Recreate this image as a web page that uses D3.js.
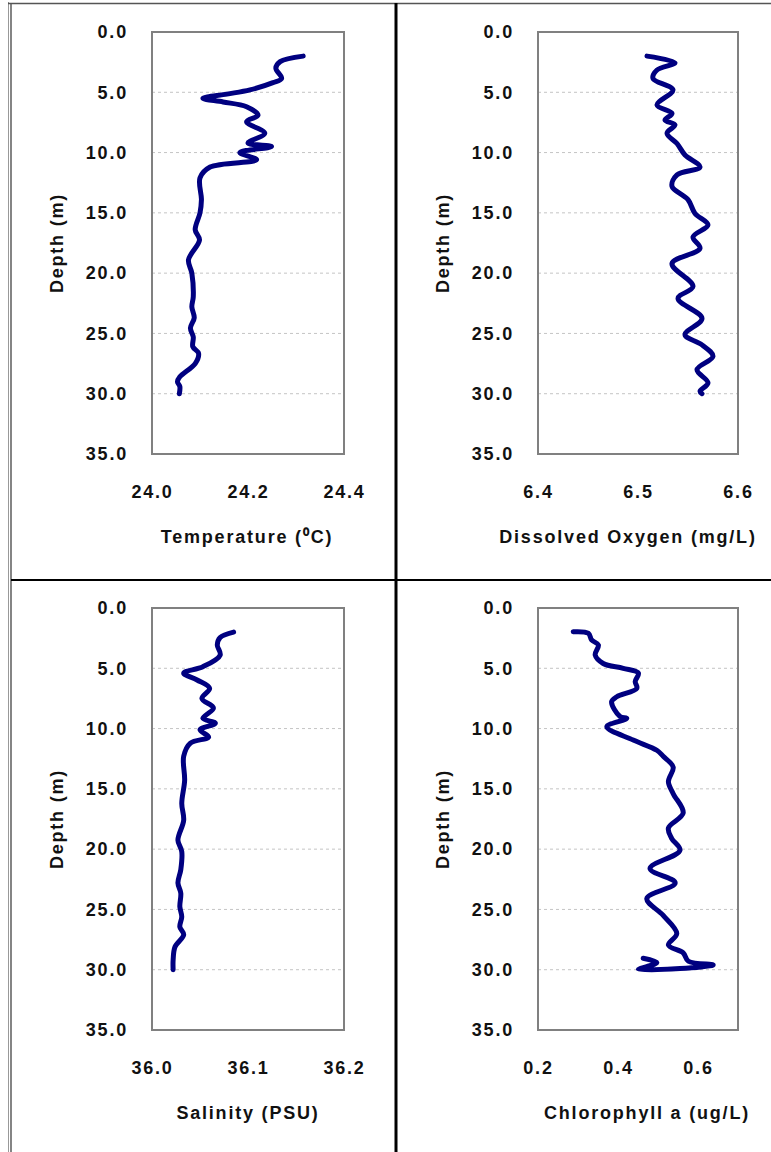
<!DOCTYPE html>
<html>
<head>
<meta charset="utf-8">
<title>Depth profiles</title>
<script src="https://cdnjs.cloudflare.com/ajax/libs/d3/7.8.5/d3.min.js"></script>
<style>
  body { margin: 0; background: #fff; }
  text { font-family: "Liberation Sans", Arial, sans-serif; font-weight: bold; fill: #111; }
  .grid line { stroke: #c4c4c4; stroke-width: 1; stroke-dasharray: 3,3; }
  .frame { fill: none; stroke: #808080; stroke-width: 2; }
  .profile { fill: none; stroke: #000080; stroke-width: 5; stroke-linejoin: round; stroke-linecap: round; }
</style>
</head>
<body>
<svg id="chart" width="771" height="1152"></svg>
<script>
// depth ticks shared by all four profiles
var depthTicks = [0, 5, 10, 15, 20, 25, 30, 35];

// temperature profile
var tempDepth = [2.0, 2.46, 3.0, 3.85, 4.2, 4.8, 5.15, 5.5, 5.8, 6.2, 6.9, 7.45, 8.4, 9.2, 9.5, 10.0, 10.6, 11.2, 12.1, 13.9, 15.0, 16.4, 17.25, 18.9, 20.0, 21.95, 22.8, 23.7, 24.55, 25.3, 26.1, 26.65, 27.5, 28.6, 29.0, 29.4, 30.0];
var tempValue = [24.315, 24.267, 24.258, 24.27, 24.252, 24.204, 24.156, 24.106, 24.148, 24.197, 24.221, 24.197, 24.235, 24.2, 24.249, 24.183, 24.218, 24.121, 24.1, 24.103, 24.1, 24.09, 24.099, 24.076, 24.083, 24.086, 24.083, 24.088, 24.08, 24.086, 24.085, 24.097, 24.09, 24.058, 24.053, 24.058, 24.057];
var tempTicks = [24.0, 24.2, 24.4];

// dissolved oxygen profile
var doDepth = [2.0, 2.55, 3.15, 3.85, 4.8, 6.05, 6.75, 7.3, 7.7, 8.4, 9.25, 10.2, 11.2, 11.85, 12.8, 13.9, 15.05, 16.0, 17.0, 17.95, 19.2, 21.1, 22.1, 23.75, 25.1, 25.95, 26.9, 28.0, 29.1, 29.8, 30.0];
var doValue = [6.509, 6.537, 6.519, 6.515, 6.535, 6.519, 6.534, 6.527, 6.537, 6.529, 6.539, 6.547, 6.562, 6.539, 6.534, 6.55, 6.557, 6.57, 6.555, 6.562, 6.534, 6.555, 6.54, 6.564, 6.547, 6.564, 6.575, 6.559, 6.57, 6.562, 6.564];
var doTicks = [6.4, 6.5, 6.6];

// salinity profile
var salDepth = [2.0, 2.44, 3.07, 3.9, 4.87, 5.4, 5.97, 6.66, 7.5, 8.3, 9.15, 9.55, 10.1, 10.7, 11.2, 12.3, 14.3, 16.2, 17.6, 19.25, 20.2, 21.7, 22.8, 23.65, 24.77, 25.6, 26.45, 27.1, 28.1, 29.2, 30.0];
var salValue = [36.085, 36.071, 36.068, 36.071, 36.053, 36.033, 36.047, 36.060, 36.052, 36.064, 36.053, 36.066, 36.050, 36.059, 36.040, 36.033, 36.034, 36.031, 36.033, 36.027, 36.031, 36.030, 36.027, 36.030, 36.029, 36.031, 36.029, 36.033, 36.024, 36.022, 36.022];
var salTicks = [36.0, 36.1, 36.2];

// chlorophyll a profile
var chlDepth = [1.97, 2.1, 2.65, 3.07, 3.9, 4.6, 5.0, 5.4, 6.1, 6.66, 7.36, 7.77, 9.0, 9.15, 9.85, 10.95, 11.8, 12.3, 13.2, 14.4, 15.4, 17.0, 18.25, 19.1, 20.1, 21.6, 22.8, 24.1, 25.5, 27.0, 27.95, 28.6, 29.3, 29.6, 29.9, 29.97, 29.75, 29.4, 29.05];
var chlValue = [0.288, 0.326, 0.334, 0.351, 0.343, 0.363, 0.413, 0.451, 0.443, 0.447, 0.397, 0.384, 0.405, 0.422, 0.372, 0.438, 0.497, 0.513, 0.538, 0.526, 0.538, 0.563, 0.526, 0.534, 0.555, 0.48, 0.543, 0.472, 0.513, 0.547, 0.526, 0.563, 0.576, 0.638, 0.555, 0.451, 0.472, 0.497, 0.463];
var chlTicks = [0.2, 0.4, 0.6];

var panels = [
  { depth: tempDepth, value: tempValue, ticks: tempTicks, domain: [24.0, 24.4], title: "Temperature (\u2070C)",
    left: 152, right: 344, top: 32, bottom: 454, titleX: 247 },
  { depth: doDepth, value: doValue, ticks: doTicks, domain: [6.4, 6.6], title: "Dissolved Oxygen (mg/L)",
    left: 538, right: 738, top: 32, bottom: 454, titleX: 628 },
  { depth: salDepth, value: salValue, ticks: salTicks, domain: [36.0, 36.2], title: "Salinity (PSU)",
    left: 152, right: 344, top: 608, bottom: 1030, titleX: 248 },
  { depth: chlDepth, value: chlValue, ticks: chlTicks, domain: [0.2, 0.7], title: "Chlorophyll a (ug/L)",
    left: 538, right: 738, top: 608, bottom: 1030, titleX: 647 }
];

var fontSize = '18px', spacing = '1.8px';

var svg = d3.select('#chart');

// table cell borders
svg.append('line').attr('x1', 8.5).attr('x2', 8.5).attr('y1', 2).attr('y2', 1152).attr('stroke', '#999').attr('stroke-width', 1);
svg.append('line').attr('x1', 11).attr('x2', 11).attr('y1', 4).attr('y2', 1152).attr('stroke', '#333').attr('stroke-width', 1.2);
svg.append('line').attr('x1', 8).attr('x2', 771).attr('y1', 3.5).attr('y2', 3.5).attr('stroke', '#555').attr('stroke-width', 1.5);
svg.append('line').attr('x1', 396).attr('x2', 396).attr('y1', 3).attr('y2', 1152).attr('stroke', '#000').attr('stroke-width', 3);
svg.append('line').attr('x1', 11).attr('x2', 771).attr('y1', 580).attr('y2', 580).attr('stroke', '#000').attr('stroke-width', 2);

panels.forEach(function (p) {
  var x = d3.scaleLinear().domain(p.domain).range([p.left, p.right]);
  var y = d3.scaleLinear().domain([0, 35]).range([p.top, p.bottom]);
  var g = svg.append('g');

  // dashed horizontal gridlines
  g.append('g').attr('class', 'grid')
    .selectAll('line')
    .data(depthTicks.slice(1, -1))
    .enter().append('line')
    .attr('x1', p.left).attr('x2', p.right)
    .attr('y1', function (d) { return y(d); })
    .attr('y2', function (d) { return y(d); });

  g.append('rect').attr('class', 'frame')
    .attr('x', p.left).attr('y', p.top)
    .attr('width', p.right - p.left).attr('height', p.bottom - p.top);

  // depth axis (labels only)
  var ya = g.append('g').attr('transform', 'translate(' + (p.left - 10) + ',0)')
    .call(d3.axisLeft(y).tickValues(depthTicks).tickFormat(d3.format('.1f')).tickSize(0).tickPadding(14));
  ya.select('.domain').remove();

  // value axis (labels only)
  var xa = g.append('g').attr('transform', 'translate(0,' + (p.bottom + 31) + ')')
    .call(d3.axisBottom(x).tickValues(p.ticks).tickFormat(d3.format('.1f')).tickSize(0).tickPadding(0));
  xa.select('.domain').remove();

  g.selectAll('.tick text')
    .style('font-family', '"Liberation Sans", Arial, sans-serif')
    .style('font-weight', 'bold')
    .style('font-size', fontSize)
    .style('letter-spacing', spacing)
    .attr('fill', '#111');
  xa.selectAll('.tick text').attr('dy', '0.71em');

  g.append('text')
    .attr('x', p.titleX).attr('y', p.bottom + 83)
    .attr('text-anchor', 'middle').attr('dominant-baseline', 'central')
    .style('font-size', fontSize).style('letter-spacing', spacing)
    .text(p.title);

  g.append('text')
    .attr('transform', 'translate(' + (p.left - 95) + ',' + ((p.top + p.bottom) / 2) + ') rotate(-90)')
    .attr('text-anchor', 'middle').attr('dominant-baseline', 'central')
    .style('font-size', fontSize).style('letter-spacing', spacing)
    .text('Depth (m)');

  var pts = p.depth.map(function (d, i) { return [p.value[i], d]; });
  var line = d3.line()
    .x(function (d) { return x(d[0]); })
    .y(function (d) { return y(d[1]); })
    .curve(d3.curveCatmullRom.alpha(0.5));

  g.append('path').datum(pts).attr('class', 'profile').attr('d', line);
});
</script>
</body>
</html>
